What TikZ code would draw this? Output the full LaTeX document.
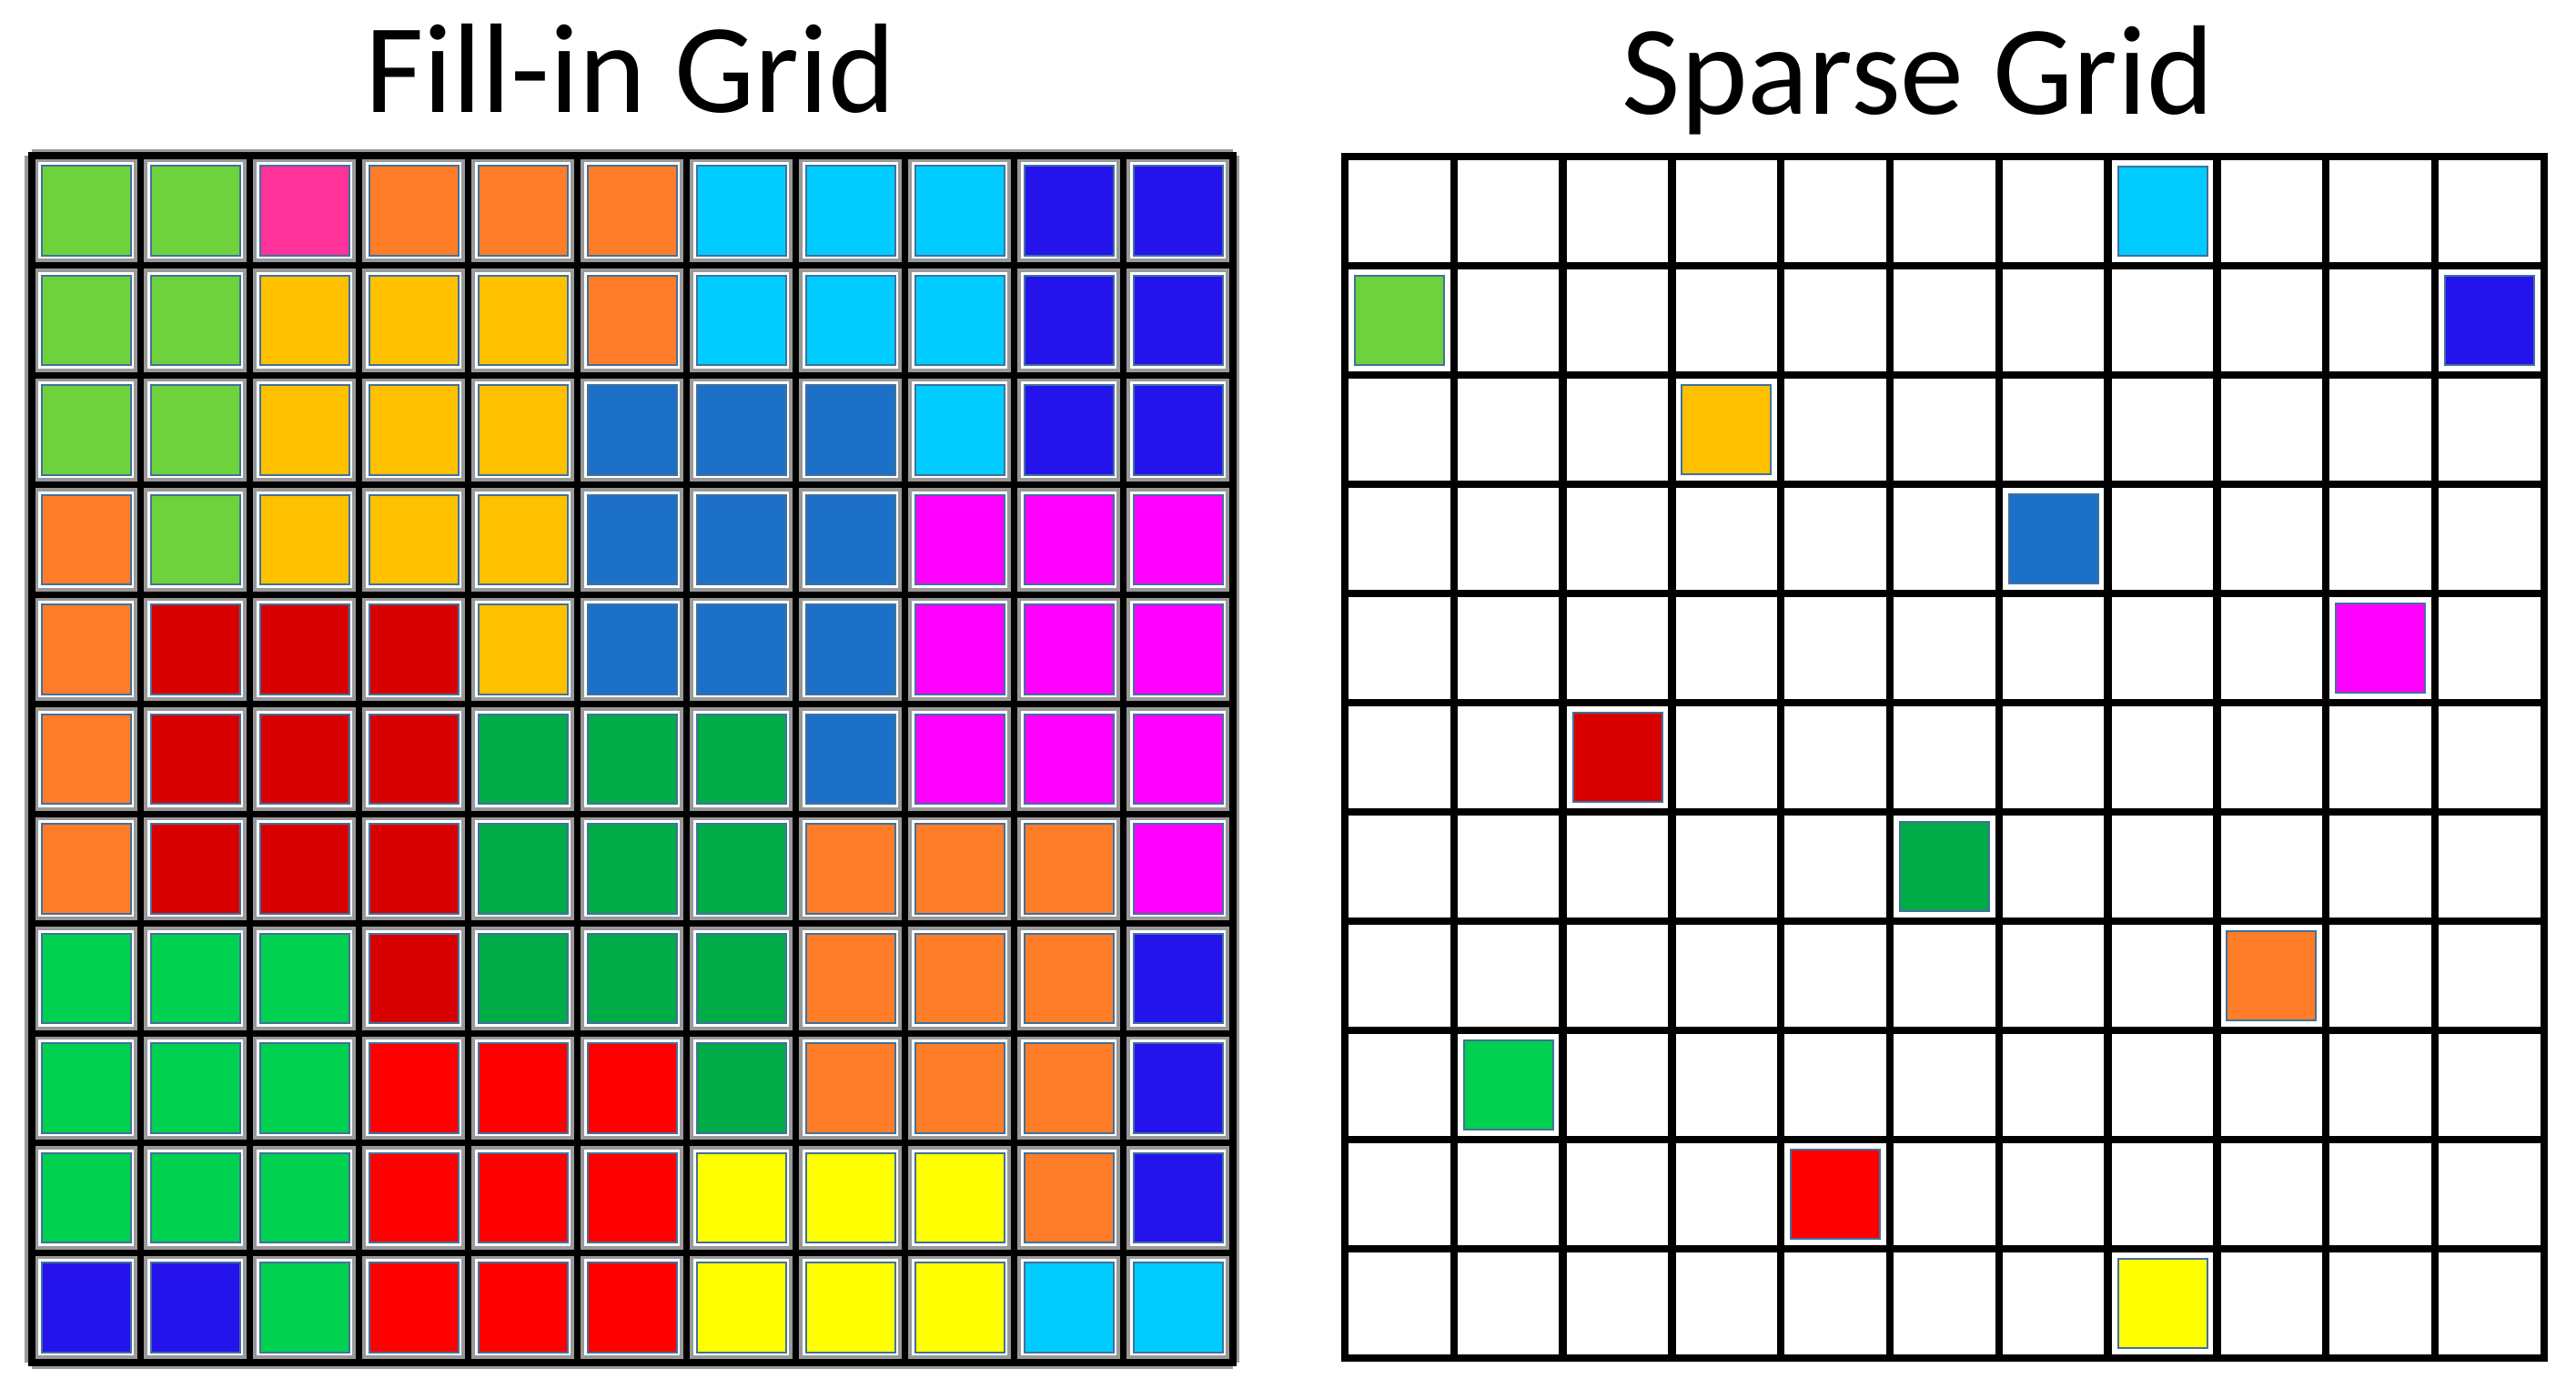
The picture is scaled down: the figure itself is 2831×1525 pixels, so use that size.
\documentclass[tikz,border=0pt]{standalone}
\usepackage{fontspec}
\setmainfont{Carlito}
\definecolor{lg}{HTML}{6ED23C}
\definecolor{pk}{HTML}{FF3399}
\definecolor{or}{HTML}{FF7D28}
\definecolor{cy}{HTML}{00CCFF}
\definecolor{bl}{HTML}{2414EB}
\definecolor{am}{HTML}{FFC000}
\definecolor{sb}{HTML}{1C70C8}
\definecolor{mg}{HTML}{FF00FF}
\definecolor{dr}{HTML}{D90000}
\definecolor{gt}{HTML}{00AB48}
\definecolor{bg}{HTML}{00D150}
\definecolor{rd}{HTML}{FF0000}
\definecolor{ye}{HTML}{FFFF00}
\definecolor{sqline}{HTML}{41719C}
\tikzset{
  title/.style={anchor=base, font=\fontsize{35}{42}\selectfont},
  halo/.style={draw=black!40, line width=3.6pt},
  gline/.style={draw=black, line width=1.75pt},
  sline/.style={draw=black, line width=2.1pt},
  sq/.style={draw=sqline, line width=0.5pt}
}
\begin{document}
\begin{tikzpicture}[x=0.25pt,y=-0.25pt]
\useasboundingbox (0,0) rectangle (2831,1525);
\fill[white] (0,0) rectangle (2831,1525);
\node[title] (t1) at (693,123) {Fill-in Grid};
\node[title] (t2) at (2108,125) {Sparse Grid};
% ---- left grid lines
\foreach \i in {0,...,11} {
  \draw[halo] (34.5+\i*120,171) -- (34.5+\i*120,1496.5);
  \draw[halo] (34.5,171+\i*120.5) -- (1354.5,171+\i*120.5);
}
\foreach \i in {1,...,10} {
  \draw[gline] (34.5+\i*120,171) -- (34.5+\i*120,1496.5);
  \draw[gline] (34.5,171+\i*120.5) -- (1354.5,171+\i*120.5);
}
\draw[gline, line width=2pt] (34.5,171) rectangle (1354.5,1496.5);
% ---- left grid squares
\foreach \row [count=\r from 0] in {
  {lg,lg,pk,or,or,or,cy,cy,cy,bl,bl},
  {lg,lg,am,am,am,or,cy,cy,cy,bl,bl},
  {lg,lg,am,am,am,sb,sb,sb,cy,bl,bl},
  {or,lg,am,am,am,sb,sb,sb,mg,mg,mg},
  {or,dr,dr,dr,am,sb,sb,sb,mg,mg,mg},
  {or,dr,dr,dr,gt,gt,gt,sb,mg,mg,mg},
  {or,dr,dr,dr,gt,gt,gt,or,or,or,mg},
  {bg,bg,bg,dr,gt,gt,gt,or,or,or,bl},
  {bg,bg,bg,rd,rd,rd,gt,or,or,or,bl},
  {bg,bg,bg,rd,rd,rd,ye,ye,ye,or,bl},
  {bl,bl,bg,rd,rd,rd,ye,ye,ye,cy,cy}} {
  \foreach \c [count=\k from 0] in \row {
    \fill[\c, sq] (34.5+\k*120+11,171+\r*120.5+11) rectangle ++(98,98.5);
  }
}
% ---- right grid lines
\foreach \i in {1,...,10} {
  \draw[sline] (1478+\i*119.8,172) -- (1478+\i*119.8,1492);
  \draw[sline] (1478,172+\i*120) -- (2796,172+\i*120);
}
\draw[sline] (1478,172) rectangle (2796,1492);
% ---- right grid squares
\foreach \r/\k/\c in {0/7/cy, 1/0/lg, 1/10/bl, 2/3/am, 3/6/sb, 4/9/mg,
  5/2/dr, 6/5/gt, 7/8/or, 8/1/bg, 9/4/rd, 10/7/ye} {
  \fill[\c, sq] (1478+\k*119.8+11,172+\r*120+11) rectangle ++(98,98);
}
\end{tikzpicture}
\end{document}
